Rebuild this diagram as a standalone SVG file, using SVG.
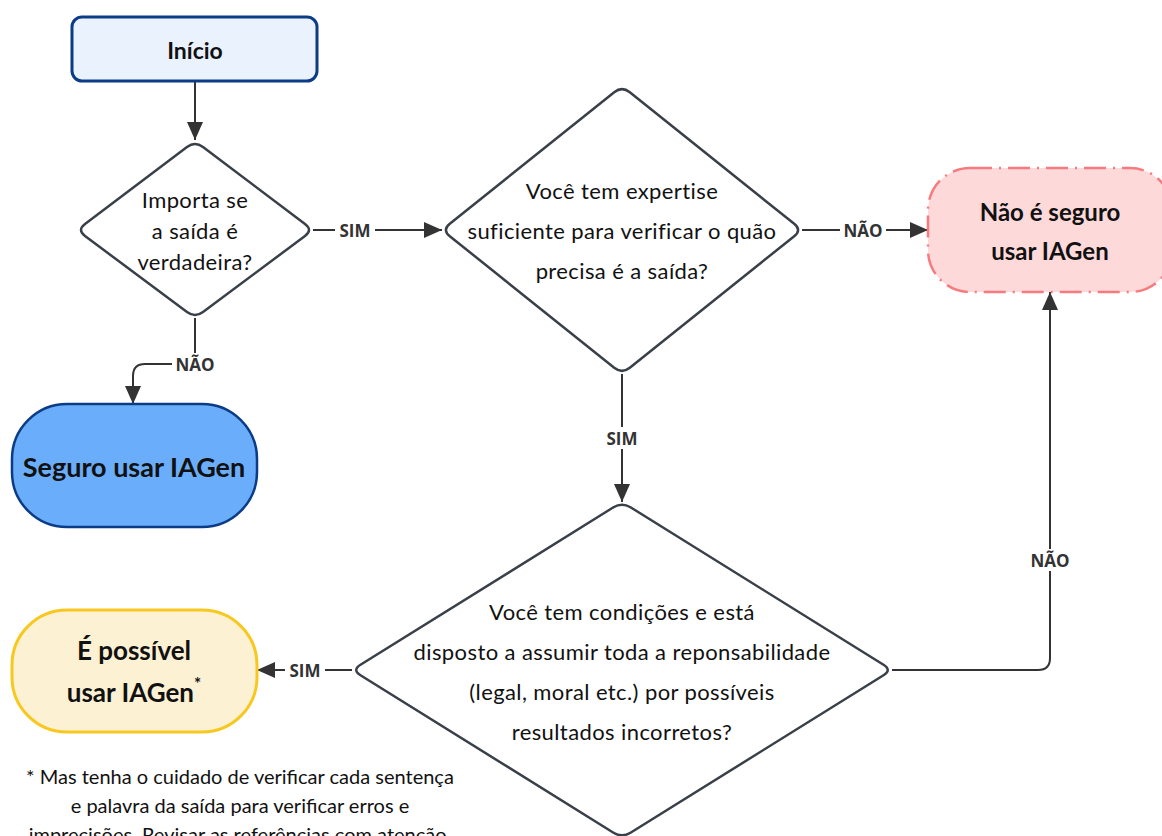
<svg xmlns="http://www.w3.org/2000/svg" width="1162" height="836" viewBox="0 0 1162 836">
<style>
.t{font-family:Lato,"Liberation Sans",sans-serif;fill:#111;text-anchor:middle;dominant-baseline:central}
.q{font-size:22px;letter-spacing:0.4px}
.b{font-weight:bold}
.dia{fill:#fff;stroke:#3a4049;stroke-width:2.5}
.ln{fill:none;stroke:#333;stroke-width:2}
.lbl{font-family:"Open Sans","Liberation Sans",sans-serif;font-weight:bold;font-size:17px;fill:#333;text-anchor:middle;dominant-baseline:central}
.lb{fill:#fff}
</style>
<defs>
<marker id="ah" markerUnits="userSpaceOnUse" markerWidth="20" markerHeight="18" refX="18" refY="8" orient="auto">
<path d="M0,0 L18,8 L0,16 Z" fill="#333"/>
</marker>
</defs>
<rect width="1162" height="836" fill="#fff"/>
<g id="connectors">
<path class="ln" d="M195,81 L195,140" marker-end="url(#ah)"/>
<path class="ln" d="M313,230 L442,230" marker-end="url(#ah)"/>
<path class="ln" d="M802,230 L928,230" marker-end="url(#ah)"/>
<path class="ln" d="M195,318 L195,352 Q195,364 183,364 L145,364 Q133,364 133,376 L133,404" marker-end="url(#ah)"/>
<path class="ln" d="M622,374 L622,502" marker-end="url(#ah)"/>
<path class="ln" d="M352,670 L257,670" marker-end="url(#ah)"/>
<path class="ln" d="M892,670 L1038,670 Q1050,670 1050,658 L1050,292" marker-end="url(#ah)"/>
<rect class="lb" x="335" y="219" width="40" height="22"/><text class="lbl" x="355" y="230">SIM</text>
<rect class="lb" x="840" y="219" width="46" height="22"/><text class="lbl" x="863" y="230">NÃO</text>
<rect class="lb" x="172" y="353" width="46" height="22"/><text class="lbl" x="195" y="364">NÃO</text>
<rect class="lb" x="602" y="427" width="40" height="22"/><text class="lbl" x="622" y="438">SIM</text>
<rect class="lb" x="285" y="659" width="40" height="22"/><text class="lbl" x="305" y="670">SIM</text>
<rect class="lb" x="1027" y="549" width="46" height="22"/><text class="lbl" x="1050" y="560">NÃO</text>
</g>
<g id="inicio">
<rect x="72" y="17" width="245" height="64" rx="10" fill="#eaf3fd" stroke="#0c3c85" stroke-width="3"/>
<text class="t b" x="195" y="50" font-size="23">Início</text>
</g>
<g id="d1">
<path class="dia" d="M187,147 Q195,141 203,147 L305,224 Q313,230 305,236 L203,312 Q195,318 187,312 L85,236 Q77,230 85,224 Z"/>
<text class="t q" x="195" y="199">Importa se</text>
<text class="t q" x="195" y="230">a saída é</text>
<text class="t q" x="195" y="261">verdadeira?</text>
</g>
<g id="d2">
<path class="dia" d="M614.2,92.2 Q622,86 629.8,92.2 L794.2,223.8 Q802,230 794.2,236.2 L629.8,367.8 Q622,374 614.2,367.8 L449.8,236.2 Q442,230 449.8,223.8 Z"/>
<text class="t q" x="622" y="190">Você tem expertise</text>
<text class="t q" x="622" y="230">suficiente para verificar o quão</text>
<text class="t q" x="622" y="270">precisa é a saída?</text>
</g>
<g id="nao-seguro">
<rect x="928" y="168" width="244" height="124" rx="42" fill="#fdd9da" stroke="#f87a7e" stroke-width="2.5" stroke-dasharray="22 7 2 7"/>
<text class="t b" x="1050" y="211" font-size="24">Não é seguro</text>
<text class="t b" x="1050" y="250" font-size="24">usar IAGen</text>
</g>
<g id="seguro">
<rect x="12" y="404" width="245" height="123" rx="55" fill="#6aaefb" stroke="#0c3c85" stroke-width="2.5"/>
<text class="t b" x="134" y="466" font-size="27">Seguro usar IAGen</text>
</g>
<g id="d3">
<path class="dia" d="M613.5,507.3 Q622,502 630.5,507.3 L883.5,664.7 Q892,670 883.5,675.3 L630.5,832.7 Q622,838 613.5,832.7 L360.5,675.3 Q352,670 360.5,664.7 Z"/>
<text class="t q" x="622" y="611">Você tem condições e está</text>
<text class="t q" x="622" y="651">disposto a assumir toda a reponsabilidade</text>
<text class="t q" x="622" y="691">(legal, moral etc.) por possíveis</text>
<text class="t q" x="622" y="731">resultados incorretos?</text>
</g>
<g id="possivel">
<rect x="12" y="610" width="245" height="122" rx="55" fill="#fdf1d4" stroke="#f7c820" stroke-width="3"/>
<text class="t b" x="134" y="650" font-size="26">É possível</text>
<text class="t b" x="134" y="692" font-size="26">usar IAGen<tspan font-size="17" dy="-9">*</tspan></text>
</g>
<g id="nota">
<text class="t" x="240" y="776" font-size="20">* Mas tenha o cuidado de verificar cada sentença</text>
<text class="t" x="240" y="805" font-size="20">e palavra da saída para verificar erros e</text>
<text class="t" x="240" y="834" font-size="20">imprecisões. Revisar as referências com atenção.</text>
</g>
</svg>
